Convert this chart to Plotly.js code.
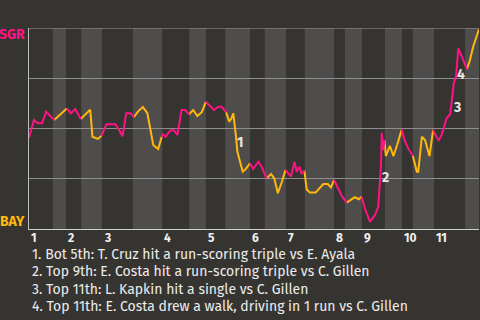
<!DOCTYPE html>
<html><head><meta charset="utf-8">
<script src="https://cdn.plot.ly/plotly-3.0.1.min.js"></script>
<style>html,body{margin:0;padding:0;background:#363431;}#c{width:480px;height:320px;}</style>
</head><body><div id="c"></div>
<script>
// game progress (0-100) and SGR win probability (%)
const progress = [0,1.1,2.0,2.9,3.8,4.6,5.6,7.2,7.9,8.4,9.3,10.3,11.5,12.5,13.6,14.1,15.3,16.1,17.2,19.2,19.9,20.8,21.6,22.6,23.3,24.2,25.3,26.3,27.2,27.6,28.7,29.5,29.8,30.4,31.3,32.1,33.0,33.9,34.7,35.6,36.5,37.4,38.4,39.3,40.2,41.1,42.1,42.8,43.8,44.5,45.0,45.4,46.0,46.3,46.9,47.5,48.2,49.1,49.8,51.0,51.7,52.8,53.8,54.5,55.3,56.2,57.0,57.6,58.2,59.0,59.5,60.1,60.6,61.2,61.7,62.4,63.7,65.4,66.4,67.1,67.8,68.7,69.6,70.6,71.7,72.4,73.3,73.9,74.7,75.8,76.9,77.6,77.9,78.2,78.4,78.7,79.0,79.3,80.2,81.0,81.8,82.8,83.6,84.3,85.3,86.2,86.5,87.3,88.0,89.0,89.8,91.0,91.7,92.8,93.6,93.9,94.4,94.9,95.4,96.2,97.3,98.0,98.7,99.5,100];
const winProb = [45.4,54.2,52.6,52.6,58.4,56.4,54.2,57.6,58.7,60.0,57.6,59.7,54.7,57.1,59.4,45.9,44.8,46.4,52.1,52.1,49.8,46.1,57.6,57.6,55.6,58.4,60.7,57.6,46.8,41.8,39.8,45.9,47.1,45.9,48.8,49.3,46.8,59.2,59.2,57.1,59.2,56.2,58.1,63.3,61.3,59.2,60.8,60.8,58.1,53.4,55.1,57.6,45.9,38.5,33.5,28.5,29.9,32.7,29.9,33.5,31.0,25.2,27.4,25.2,17.8,23.5,29.4,27.7,26.0,33.5,28.5,31.0,27.4,29.0,19.8,18.1,18.1,22.4,22.4,20.7,24.4,20.2,16.1,13.1,14.8,15.8,14.8,16.1,9.8,3.6,7.0,10.9,20.4,30.8,47.8,39.3,44.3,36.3,41.3,36.3,41.8,49.3,43.4,40.1,36.3,28.5,28.5,45.9,44.3,36.3,49.3,43.9,46.8,55.1,57.1,64.2,72.5,75.8,89.9,85.7,79.5,84.1,90.7,96.5,99.4];
// half-inning boundaries (top 1, bot 1, top 2, ...)
const halfInningEdges = [0,5.3,8.2,11.6,16.2,23.1,29.6,35.6,39.3,43.6,49.1,52.4,57.1,61.3,67.8,70.2,74.0,79.1,82.9,85.3,90.0,96.9,100];
const inningLabels = ['1','2','3','4','5','6','7','8','9','10','11'];
const keyPlayNums = ['1','2','3','4'];
const keyPlayX = [47.1,79.2,95.1,96.1];
const keyPlayY = [42.8,25.5,60.3,77.0];
const keyPlayText = [
  '1. Bot 5th: T. Cruz hit a run-scoring triple vs E. Ayala',
  '2. Top 9th: E. Costa hit a run-scoring triple vs C. Gillen',
  '3. Top 11th: L. Kapkin hit a single vs C. Gillen',
  '4. Top 11th: E. Costa drew a walk, driving in 1 run vs C. Gillen'
];
const PINK = '#ff1283', YELLOW = '#ffb80c', BG = '#363431', BAND = '#4e4d4b';
const FONT = 'Fira Sans, Noto Sans, sans-serif';

function halfIdx(x){
  for (let k=0;k<halfInningEdges.length-1;k++){ if (x>=halfInningEdges[k] && x<halfInningEdges[k+1]) return k; }
  return halfInningEdges.length-2;
}
function build(parity){
  const xs=[], ys=[]; let prevIn=false;
  for (let i=0;i<progress.length-1;i++){
    const xm=(progress[i]+progress[i+1])/2;
    if (halfIdx(xm)%2===parity){
      if(!prevIn){ if(xs.length){xs.push(null);ys.push(null);} xs.push(progress[i]); ys.push(winProb[i]); }
      xs.push(progress[i+1]); ys.push(winProb[i+1]); prevIn=true;
    } else prevIn=false;
  }
  return {xs,ys};
}
const topHalf=build(0), botHalf=build(1);
const traces=[
  {x:botHalf.xs,y:botHalf.ys,mode:'lines',line:{color:YELLOW,width:2},hoverinfo:'skip'},
  {x:topHalf.xs,y:topHalf.ys,mode:'lines',line:{color:PINK,width:2},hoverinfo:'skip'}
];
const shapes=[];
for (let k=1;k<halfInningEdges.length-1;k+=2){
  shapes.push({type:'rect',xref:'x',yref:'paper',x0:halfInningEdges[k],x1:halfInningEdges[k+1],y0:0,y1:1,fillcolor:BAND,line:{width:0},layer:'below'});
}
shapes.push({type:'line',xref:'paper',yref:'y',x0:0,x1:1,y0:100,y1:100,line:{color:'#9a9a9a',width:1}});
const ann=[];
inningLabels.forEach((t,i)=>ann.push({text:'<b>'+t+'</b>',xref:'x',yref:'paper',x:halfInningEdges[2*i],y:-0.045,xanchor:'left',yanchor:'middle',showarrow:false,xshift:0,font:{family:FONT,size:12,color:'#f0f0f0'}}));
keyPlayNums.forEach((t,i)=>ann.push({text:'<b>'+t+'</b>',x:keyPlayX[i],y:keyPlayY[i],xanchor:'center',yanchor:'middle',showarrow:false,font:{family:FONT,size:14,color:'#e6e6e6'}}));
keyPlayText.forEach((t,i)=>ann.push({text:t,xref:'paper',yref:'paper',x:0,xshift:1,y:(229-254-i*17.6)/201,xanchor:'left',yanchor:'middle',showarrow:false,font:{family:FONT,size:14,color:'#ececec'}}));
ann.push({text:'<b>SGR</b>',xref:'paper',yref:'paper',x:0,xshift:-2,y:(229-35)/201,xanchor:'right',yanchor:'middle',showarrow:false,font:{family:FONT,size:14,color:PINK}});
ann.push({text:'<b>BAY</b>',xref:'paper',yref:'paper',x:0,xshift:-2,y:(229-221)/201,xanchor:'right',yanchor:'middle',showarrow:false,font:{family:FONT,size:14,color:YELLOW}});
const layout={
  width:480,height:320,margin:{l:29,r:1,t:28,b:91},
  paper_bgcolor:BG,plot_bgcolor:BG,showlegend:false,
  xaxis:{range:[0,100],showgrid:false,zeroline:false,showticklabels:false,ticks:'',showline:true,linecolor:'#d0d0d0',linewidth:1,fixedrange:true},
  yaxis:{range:[0,100],tickvals:[25,50,75],showgrid:true,gridcolor:'#8e8e8e',gridwidth:1,zeroline:false,showticklabels:false,ticks:'',showline:true,linecolor:'#bdbdbd',linewidth:1,fixedrange:true},
  shapes:shapes,annotations:ann
};
Plotly.newPlot('c',traces,layout,{displayModeBar:false,staticPlot:true});
</script></body></html>
